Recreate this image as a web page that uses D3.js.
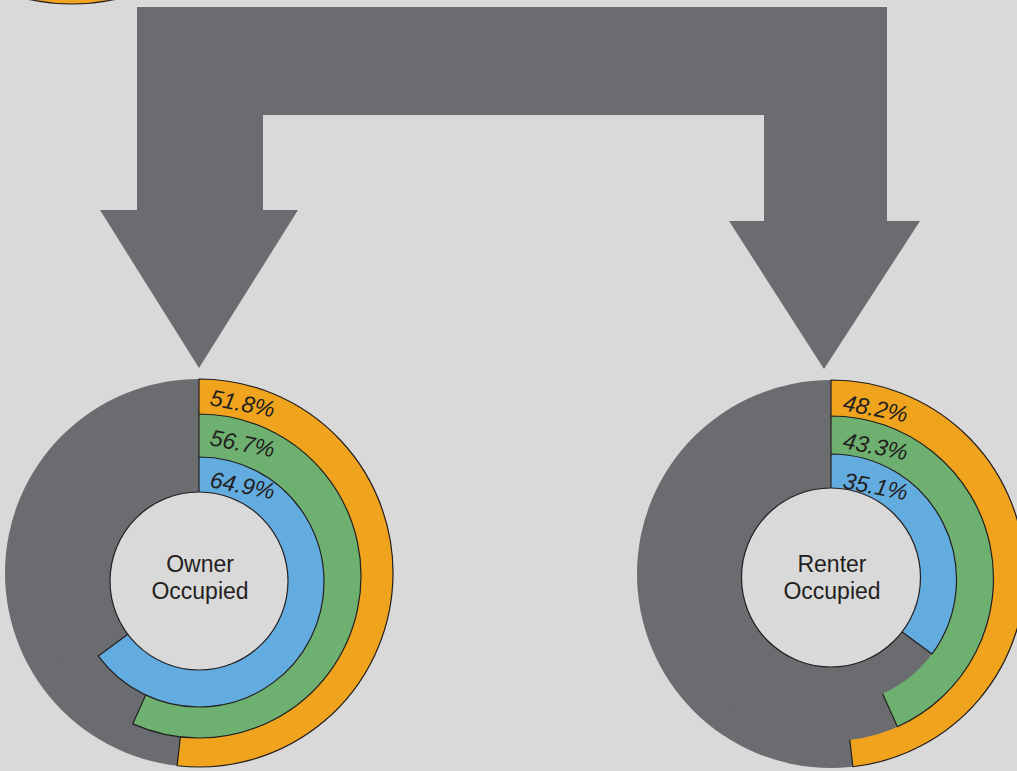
<!DOCTYPE html>
<meta charset="utf-8">
<style>
body { margin: 0; background: #d9d9d9; }
text {
  font-family: "Liberation Sans", Arial, sans-serif;
  fill: #231f20;
}
.pct { font-size: 23px; font-style: italic; }
.name { font-size: 23px; }
</style>
<svg width="1017" height="771"></svg>
<script src="https://d3js.org/d3.v7.min.js"></script>
<script>

// data
var groups = ["Owner\nOccupied", "Renter\nOccupied"];
var series = ["outer", "middle", "inner"];
var ownerValues = [51.8, 56.7, 64.9];
var renterValues = [48.2, 43.3, 35.1];
var values = [ownerValues, renterValues];

var colors = ["#f0a41e", "#6eb070", "#63acdf"];
var grey = "#6b6c70",
    bg = "#d9d9d9",
    ink = "#231f20";

var svg = d3.select("svg"),
    width = +svg.attr("width"),
    height = +svg.attr("height");

svg.append("rect").attr("width", width).attr("height", height).attr("fill", bg);

// layout for each donut: centre x, and per ring radius / centre y (rings are not quite concentric)
var layout = [
  { cx: 199, lx: 10, rings: [{ r: 194, cy: 573, lr: 168 }, { r: 162, cy: 576, lr: 131 }, { r: 125, cy: 582, lr: 95 }],
    hole: { r: 89, cy: 581 }, textY: 572 },
  { cx: 831, lx: 11, rings: [{ r: 194, cy: 574, lr: 164 }, { r: 162.5, cy: 578.5, lr: 130.5 }, { r: 125.5, cy: 579.5, lr: 91.5 }],
    hole: { r: 89.5, cy: 577.5 }, textY: 572 }
];

var angle = d3.scaleLinear().domain([0, 100]).range([0, 2 * Math.PI]);
var arc = d3.arc().innerRadius(0);

// cut-off shape at top left
svg.append("circle")
    .attr("cx", 72).attr("cy", -198).attr("r", 202)
    .attr("fill", colors[0]).attr("stroke", ink).attr("stroke-width", 1.2);

// the split arrow
var arrow = [[137, 7], [887, 7], [887, 221], [920, 221], [824, 369], [729, 221], [764, 221],
             [764, 115], [263, 115], [263, 210], [298, 210], [199, 368], [100, 210], [137, 210]];
svg.append("path")
    .attr("d", d3.line()(arrow) + "Z")
    .attr("fill", grey);

groups.forEach(function(name, gi) {
  var L = layout[gi];
  var g = svg.append("g");

  series.forEach(function(s, i) {
    var ring = L.rings[i];
    var v = values[gi][i];
    var rg = g.append("g").attr("transform", "translate(" + L.cx + "," + ring.cy + ")");

    rg.append("circle").attr("r", ring.r).attr("fill", grey);

    rg.append("path")
        .attr("d", arc({ outerRadius: ring.r, startAngle: 0, endAngle: angle(v) }))
        .attr("fill", colors[i])
        .attr("stroke", ink)
        .attr("stroke-width", 1.2)
        .attr("stroke-linejoin", "round");
  });

  // hole
  g.append("circle")
      .attr("cx", L.cx).attr("cy", L.hole.cy).attr("r", L.hole.r)
      .attr("fill", bg).attr("stroke", ink).attr("stroke-width", 1.2);

  // percentage labels, tilted a little
  series.forEach(function(s, i) {
    var ring = L.rings[i];
    var x = L.cx + L.lx, y = ring.cy - ring.lr;
    g.append("text").attr("class", "pct")
        .attr("transform", "translate(" + x + "," + y + ") rotate(11)")
        .text(values[gi][i].toFixed(1) + "%");
  });

  // centre label
  var t = g.append("text").attr("class", "name").attr("text-anchor", "middle");
  name.split("\n").forEach(function(line, li) {
    t.append("tspan").attr("x", L.cx + 1).attr("y", L.textY + li * 27).text(line);
  });
});

</script>
